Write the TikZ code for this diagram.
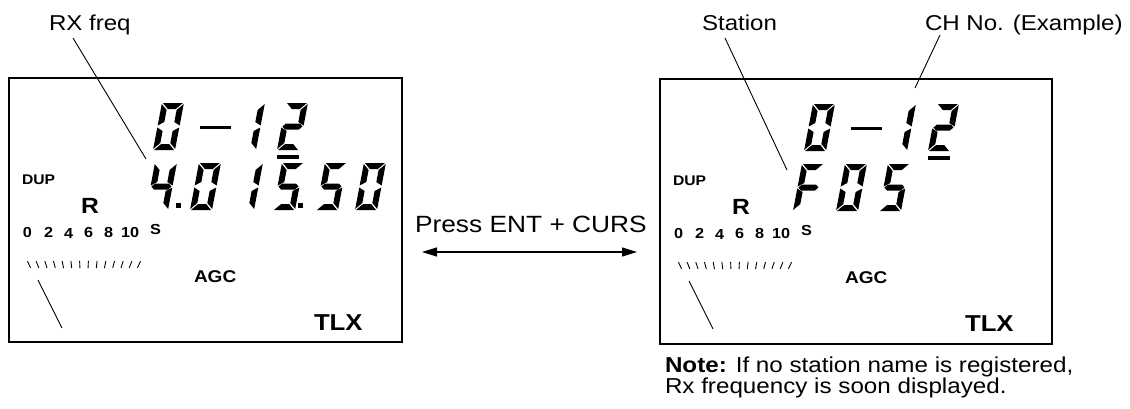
\documentclass[tikz,border=0pt]{standalone}
\usepackage{fontspec}
\setmainfont{Liberation Sans}[FakeStretch=1.12,BoldFeatures={FakeStretch=1.12}]
\usetikzlibrary{arrows.meta}
\newcommand\fs[1]{\fontsize{#1}{#1}\selectfont}
% seven segment pieces (upright units, v upwards)
\newcommand\segA{\fill (1,47) -- (21,47) -- (15,41) -- (7,41) -- cycle;}
\newcommand\segD{\fill (1,0) -- (21,0) -- (15,6) -- (7,6) -- cycle;}
\newcommand\segG{\fill (1,23.5) -- (4,26.5) -- (18,26.5) -- (21,23.5) -- (18,20.5) -- (4,20.5) -- cycle;}
\newcommand\segF{\fill (0,46) -- (6,40) -- (6,28) -- (0,24.5) -- cycle;}
\newcommand\segE{\fill (0,1) -- (6,7) -- (6,19) -- (0,22.5) -- cycle;}
\newcommand\segB{\fill (22,46) -- (16,40) -- (16,28) -- (22,24.5) -- cycle;}
\newcommand\segC{\fill (22,1) -- (16,7) -- (16,19) -- (22,22.5) -- cycle;}
\newcommand\lcddigit[3]{\begin{scope}[shift={(#1,#2)},y=1pt,xslant=0.19]
  \foreach \sg in {#3}{\csname seg\sg\endcsname}\end{scope}}
% common panel content
\newcommand\lcdpanel[3]{%
\begin{scope}[shift={(#2,#3)}]
  \node[lbl,font=\fs{14}\bfseries] (#1dup) at (22,184) {DUP};
  \node[lbl,font=\fs{22}\bfseries] (#1r) at (81,213) {R};
  \node[lbl,font=\fs{14.5}\bfseries] (#1n0) at (23,237) {0};
  \node[lbl,font=\fs{14.5}\bfseries] (#1n2) at (44,237) {2};
  \node[lbl,font=\fs{14.5}\bfseries] (#1n4) at (64,238) {4};
  \node[lbl,font=\fs{14.5}\bfseries] (#1n6) at (84,237) {6};
  \node[lbl,font=\fs{14.5}\bfseries] (#1n8) at (104,237) {8};
  \node[lbl,font=\fs{14.5}\bfseries] (#1n10) at (121,237) {10};
  \node[lbl,font=\fs{14.5}\bfseries] (#1ns) at (150,234) {S};
  \node[lbl,font=\fs{17}\bfseries] (#1agc) at (194,282) {AGC};
  \node[lbl,font=\fs{23}\bfseries] (#1tlx) at (314,330) {TLX};
  \foreach \i in {0,...,13}{%
    \pgfmathsetmacro\tx{29+\i*110/13}%
    \pgfmathsetmacro\ddx{\tx-84}%
    \pgfmathsetmacro\LL{sqrt(\ddx*\ddx+115.5*115.5)}%
    \pgfmathsetmacro\ux{\ddx/\LL*3.6}%
    \pgfmathsetmacro\uy{115.5/\LL*3.6}%
    \draw[tickline] ({\tx-\ux},{264.5+\uy}) -- ({\tx+\ux},{264.5-\uy});}
  \coordinate (#1nA) at (38,280);
  \coordinate (#1nB) at (62,328);
  \draw[tickline] (#1nA) -- (#1nB);
  % first row: 0 - 12
  \lcddigit{153}{150}{A,B,C,D,E,F}
  \fill (200,126) rectangle (231,128.8);
  \lcddigit{234}{150}{B,C}
  \lcddigit{277}{150}{A,B,G,E,D}
  \fill (277,155.3) rectangle (299,158.8);
\end{scope}}
\begin{document}
\begin{tikzpicture}[x=1pt,y=-1pt,
  lbl/.style={anchor=base west,inner sep=0pt,outer sep=0pt},
  leader/.style={line width=0.9pt},
  boxline/.style={line width=1.6pt},
  tickline/.style={line width=0.9pt}]
\useasboundingbox (0,0) rectangle (1130,408);
% boxes
\draw[boxline] (9,78) rectangle (402,342);
\draw[boxline] (660,79) rectangle (1052,344);
\lcdpanel{L}{0}{0}
\lcdpanel{R}{651}{1}
% left second row 4.015.50
\lcddigit{146}{210}{F,G,B,C}
\fill (176,203) rectangle (181,208);
\lcddigit{190}{210}{A,B,C,D,E,F}
\lcddigit{232}{210}{B,C}
\lcddigit{273}{210}{A,F,G,C,D}
\fill (298,203) rectangle (303,208);
\lcddigit{316}{210}{A,F,G,C,D}
\lcddigit{355}{210}{A,B,C,D,E,F}
% right second row F05
\lcddigit{793}{211}{A,F,G,E}
\lcddigit{836}{211}{A,B,C,D,E,F}
\lcddigit{879}{211}{A,F,G,C,D}
% labels
\node[lbl,font=\fs{21.5}] (rxlabel) at (49,30) {RX freq};
\node[lbl,font=\fs{21.5}] (stlabel) at (702,30) {Station};
\node[lbl,font=\fs{21.5}] (chlabel) at (925,30) {CH No. (Example)};
\node[lbl,font=\fs{23.5}] (press) at (415,232) {Press ENT + CURS};
\node[lbl,font=\fs{21.6}] (note1) at (665,372) {\textbf{Note:} If no station name is registered,};
\node[lbl,font=\fs{21.6}] (note2) at (665,393.5) {Rx frequency is soon displayed.};
% leaders
\coordinate (rxs) at (73,38);   \coordinate (rxe) at (146,159);
\coordinate (sts) at (725,38);  \coordinate (ste) at (787,170);
\coordinate (chs) at (940,35);  \coordinate (che) at (915,88);
\draw[leader] (rxs) -- (rxe);
\draw[leader] (sts) -- (ste);
\draw[leader] (chs) -- (che);
% arrow
\coordinate (arL) at (422,252);
\coordinate (arR) at (637,252);
\draw[line width=1.3pt,{Triangle[length=15pt,width=9pt]}-{Triangle[length=15pt,width=9pt]}] (arL) -- (arR);
\end{tikzpicture}
\end{document}
